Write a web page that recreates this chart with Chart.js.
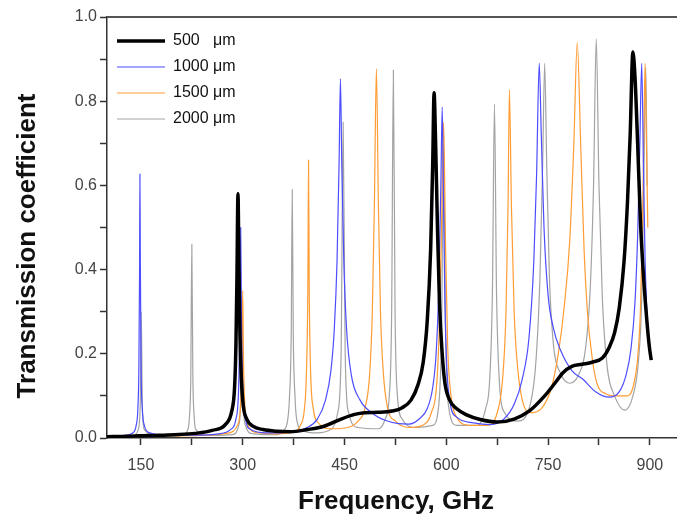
<!DOCTYPE html>
<html>
<head>
<meta charset="utf-8">
<script src="https://cdn.jsdelivr.net/npm/chart.js@4"></script>
<style>
  html, body { margin: 0; padding: 0; background: #fff; }
  #wrap { width: 677px; height: 521px; position: relative; }
</style>
</head>
<body>
<div id="wrap"><canvas id="chart"></canvas></div>
<script>
// Frequency (GHz) / transmission pairs.
const t500 = [
  [100, 0.003], [130, 0.004], [160, 0.006], [200, 0.008], [230, 0.011],
  [255, 0.018], [275, 0.033], [284, 0.065], [288, 0.12], [290, 0.22],
  [291.5, 0.38], [293, 0.58], [294.5, 0.4], [296, 0.24], [298, 0.14],
  [301, 0.075], [306, 0.045], [315, 0.028], [330, 0.02], [350, 0.016],
  [370, 0.015], [395, 0.02], [420, 0.028], [445, 0.045], [465, 0.056],
  [480, 0.06], [500, 0.061], [520, 0.064], [535, 0.072], [548, 0.09],
  [558, 0.125], [566, 0.18], [572, 0.28], [577, 0.45], [580, 0.65],
  [582, 0.82], [584, 0.72], [587, 0.5], [590, 0.32], [594, 0.2],
  [598, 0.13], [605, 0.09], [615, 0.07], [630, 0.055], [650, 0.044],
  [675, 0.038], [700, 0.045], [723, 0.065], [745, 0.1], [760, 0.13],
  [772, 0.155], [785, 0.17], [800, 0.175], [815, 0.18], [830, 0.19],
  [840, 0.215], [848, 0.25], [855, 0.31], [862, 0.42], [867, 0.56],
  [871, 0.72], [875, 0.917], [878, 0.86], [882, 0.7], [886, 0.52],
  [890, 0.4], [895, 0.29], [899, 0.22], [902, 0.185],
];

const t1000 = [
  [100, 0.004], [125, 0.006], [138, 0.012], [143, 0.03], [145.5, 0.07],
  [147, 0.17], [148, 0.4], [148.5, 0.627], [149.2, 0.4], [150.2, 0.17],
  [152, 0.07], [155, 0.03], [162, 0.013], [185, 0.007], [230, 0.007],
  [265, 0.01], [282, 0.02], [290, 0.045], [294, 0.12], [295.8, 0.28],
  [297, 0.5], [298.2, 0.28], [300, 0.12], [304, 0.045], [312, 0.02],
  [335, 0.012], [370, 0.014], [395, 0.025], [410, 0.045], [422, 0.09],
  [430, 0.16], [435, 0.26], [439, 0.42], [442, 0.65], [444, 0.853],
  [446, 0.65], [449, 0.42], [453, 0.26], [460, 0.15], [473, 0.09],
  [490, 0.06], [510, 0.042], [530, 0.034], [545, 0.033], [560, 0.045],
  [572, 0.07], [580, 0.12], [585, 0.2], [589, 0.36], [592, 0.6],
  [594, 0.786], [596, 0.55], [598, 0.32], [601, 0.16], [606, 0.08],
  [615, 0.05], [640, 0.036], [665, 0.032], [685, 0.045], [700, 0.08],
  [712, 0.14], [722, 0.24], [729, 0.42], [733, 0.62], [737, 0.89],
  [740, 0.72], [744, 0.5], [750, 0.34], [758, 0.26], [768, 0.21],
  [785, 0.16], [801, 0.14], [820, 0.11], [840, 0.097], [855, 0.11],
  [865, 0.15], [872, 0.21], [878, 0.32], [882, 0.48], [885, 0.68],
  [888, 0.89], [890.5, 0.65], [893, 0.42], [896, 0.28],
];

const t1500 = [
  [100, 0.003], [150, 0.004], [200, 0.005], [250, 0.007], [280, 0.012],
  [292, 0.03], [297, 0.08], [299, 0.2], [300, 0.35], [301, 0.2],
  [303, 0.08], [308, 0.03], [320, 0.013], [350, 0.01], [375, 0.015],
  [385, 0.03], [391, 0.07], [394, 0.16], [396, 0.36], [397, 0.66],
  [398, 0.36], [400, 0.16], [404, 0.07], [412, 0.035], [430, 0.022],
  [455, 0.025], [470, 0.04], [480, 0.07], [487, 0.15], [491, 0.3],
  [494, 0.55], [497, 0.877], [500, 0.55], [503, 0.3], [507, 0.16],
  [513, 0.075], [525, 0.04], [545, 0.025], [565, 0.03], [578, 0.06],
  [586, 0.13], [590, 0.28], [593, 0.5], [596, 0.75], [599, 0.45],
  [602, 0.22], [607, 0.1], [615, 0.05], [635, 0.03], [660, 0.03],
  [675, 0.06], [683, 0.14], [688, 0.3], [691, 0.55], [693, 0.827],
  [696, 0.55], [700, 0.3], [705, 0.17], [712, 0.09], [723, 0.06],
  [740, 0.07], [755, 0.12], [765, 0.2], [773, 0.3], [782, 0.47],
  [788, 0.7], [793, 0.94], [798, 0.7], [803, 0.45], [808, 0.3],
  [815, 0.19], [822, 0.13], [835, 0.105], [850, 0.1], [865, 0.1],
  [875, 0.12], [882, 0.19], [886, 0.3], [889, 0.5], [891, 0.7],
  [893, 0.89], [895, 0.7], [897, 0.5],
];

const t2000 = [
  [100, 0.003], [140, 0.006], [146, 0.02], [149, 0.08], [150.5, 0.3],
  [152, 0.08], [155, 0.02], [175, 0.006], [210, 0.006], [219, 0.02],
  [221.5, 0.05], [223.5, 0.15], [225, 0.46], [226.5, 0.15], [228.5, 0.05],
  [231, 0.02], [250, 0.006], [285, 0.008], [294, 0.03], [297, 0.09],
  [299, 0.3], [301, 0.09], [304, 0.03], [315, 0.01], [350, 0.008],
  [360, 0.018], [366, 0.04], [369, 0.1], [371.5, 0.25], [373, 0.59],
  [374.5, 0.25], [377, 0.1], [380, 0.04], [388, 0.018], [410, 0.012],
  [430, 0.02], [440, 0.06], [445, 0.2], [448, 0.75], [451, 0.2],
  [456, 0.06], [470, 0.025], [500, 0.022], [510, 0.045], [516, 0.1],
  [519.5, 0.3], [522, 0.874], [524.5, 0.3], [528, 0.1], [535, 0.045],
  [555, 0.025], [580, 0.03], [589, 0.08], [593, 0.25], [596, 0.7],
  [599, 0.25], [603, 0.08], [615, 0.03], [645, 0.03], [658, 0.07],
  [664, 0.14], [668, 0.35], [671, 0.793], [674, 0.35], [678, 0.14],
  [686, 0.06], [705, 0.04], [722, 0.07], [732, 0.18], [738, 0.38],
  [742, 0.65], [745, 0.89], [748, 0.65], [752, 0.38], [758, 0.22],
  [768, 0.155], [782, 0.13], [795, 0.15], [805, 0.21], [812, 0.35],
  [817, 0.6], [821, 0.948], [825, 0.6], [830, 0.33], [837, 0.17],
  [848, 0.1], [863, 0.066], [875, 0.1], [883, 0.18], [888, 0.33],
  [891, 0.6], [894, 0.88], [896, 0.6],
];

const seriesLabels = ["500   \u03bcm", "1000 \u03bcm", "1500 \u03bcm", "2000 \u03bcm"];
const xTitle = "Frequency, GHz";
const yTitle = "Transmission coefficient";

const FONT = '"Liberation Sans", Arial, sans-serif';
const AXIS = "#333";

const toXY = (pairs) => pairs.map(([x, y]) => ({ x, y }));

// Chart.js has no spot for free-standing axis titles or a top frame line,
// so draw those by hand after everything else.
const frameAndTitles = {
  id: "frameAndTitles",
  afterDraw(chart) {
    const { ctx, chartArea } = chart;
    ctx.save();
    ctx.strokeStyle = "#555";
    ctx.lineWidth = 2;
    ctx.beginPath();
    ctx.moveTo(chartArea.left, chartArea.top);
    ctx.lineTo(chartArea.right, chartArea.top);
    ctx.stroke();

    ctx.fillStyle = "#111";
    ctx.font = `bold 26px ${FONT}`;
    ctx.textAlign = "center";
    ctx.textBaseline = "middle";
    ctx.fillText(xTitle, (chartArea.left + chartArea.right) / 2 + 4, 502);
    ctx.translate(28, 246);
    ctx.rotate(-Math.PI / 2);
    ctx.fillText(yTitle, 0, 0);
    ctx.restore();
  },
};

// eslint-disable-next-line no-new
new Chart(document.getElementById("chart"), {
  type: "line",
  plugins: [frameAndTitles],
  data: {
    datasets: [
      {
        label: seriesLabels[0],
        data: toXY(t500),
        borderColor: "#000",
        backgroundColor: "#000",
        borderWidth: 3.5,
      },
      {
        label: seriesLabels[1],
        data: toXY(t1000),
        borderColor: "#4d4dff",
        backgroundColor: "#4d4dff",
        borderWidth: 1.2,
      },
      {
        label: seriesLabels[2],
        data: toXY(t1500),
        borderColor: "#ff9c33",
        backgroundColor: "#ff9c33",
        borderWidth: 1.2,
      },
      {
        label: seriesLabels[3],
        data: toXY(t2000),
        borderColor: "#a3a3a3",
        backgroundColor: "#a3a3a3",
        borderWidth: 1.2,
      },
    ],
  },
  options: {
    animation: false,
    responsive: true,
    maintainAspectRatio: false,
    cubicInterpolationMode: "monotone",
    elements: {
      point: { radius: 0 },
    },
    layout: {
      padding: { top: 17, left: 0, right: 0, bottom: 0 },
    },
    plugins: {
      tooltip: { enabled: false },
      legend: {
        position: "chartArea",
        align: "start",
        // empty title is only there to push the rows down
        title: { display: true, text: "", font: { size: 1 }, padding: { top: 11, bottom: 10.8 } },
        labels: {
          boxWidth: 48,
          boxHeight: 0,
          padding: 10,
          color: "#111",
          font: { family: FONT, size: 16 },
        },
      },
    },
    scales: {
      x: {
        type: "linear",
        min: 100,
        max: 940,
        afterFit: (s) => { s.height = 83; },
        border: { color: AXIS, width: 1.5 },
        grid: { drawOnChartArea: false, tickLength: 7, color: AXIS, tickWidth: 1.5 },
        ticks: {
          stepSize: 75,
          includeBounds: false,
          autoSkip: false,
          maxRotation: 0,
          padding: 11,
          color: "#444",
          font: { family: FONT, size: 16 },
          callback: (v) => (v % 150 === 0 ? String(v) : ""),
        },
      },
      y: {
        min: 0,
        max: 1,
        afterFit: (s) => { s.width = 107; },
        border: { color: AXIS, width: 1.5 },
        grid: { drawOnChartArea: false, tickLength: 7, color: AXIS, tickWidth: 1.5 },
        ticks: {
          stepSize: 0.1,
          includeBounds: false,
          autoSkip: false,
          padding: 3,
          color: "#444",
          font: { family: FONT, size: 16 },
          callback: (v) => (Math.round(v * 10) % 2 === 0 ? v.toFixed(1) : ""),
        },
      },
    },
  },
});
</script>
</body>
</html>
